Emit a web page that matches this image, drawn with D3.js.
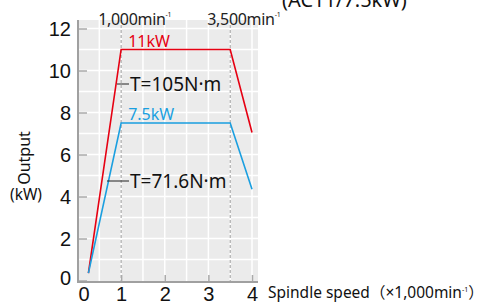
<!DOCTYPE html>
<html>
<head>
<meta charset="utf-8">
<script src="https://cdn.jsdelivr.net/npm/d3@7"></script>
<style>
  body { margin: 0; background: #fff; }
  svg { display: block; font-family: "Noto Sans", "Noto Sans CJK JP", sans-serif; }
</style>
</head>
<body>
<svg id="chart" width="485" height="304"></svg>
<script>
// spindle speed (x1,000 min^-1) and output (kW)
const speeds = [0.25, 1, 3.5, 4];
const output11 = [0.35, 11, 11, 7.05];
const output75 = [0.35, 7.5, 7.5, 4.35];
const xTicks = [0, 1, 2, 3, 4];
const yTicks = [0, 2, 4, 6, 8, 10, 12];
const markerSpeeds = [1, 3.5];
const markerLabels = ['1,000', '3,500'];

const svg = d3.select('#chart');

const x = d3.scaleLinear().domain([0, 4]).range([77.5, 252]);
const y = d3.scaleLinear().domain([0, 12]).range([280.5, 28.5]);

const plotLeft = 78, plotRight = 258, plotTop = 20, plotBottom = 282;

svg.append('rect')
  .attr('x', plotLeft).attr('y', plotTop)
  .attr('width', plotRight - plotLeft).attr('height', plotBottom - plotTop)
  .attr('fill', '#ebebeb');

// white grid
svg.append('g').selectAll('line')
  .data(d3.range(0.5, 4.01, 0.5))
  .join('line')
  .attr('x1', d => x(d)).attr('x2', d => x(d))
  .attr('y1', plotTop).attr('y2', plotBottom)
  .attr('stroke', '#fff').attr('stroke-width', 1.5);

svg.append('g').selectAll('line')
  .data(d3.range(1, 13))
  .join('line')
  .attr('x1', plotLeft).attr('x2', plotRight)
  .attr('y1', d => y(d)).attr('y2', d => y(d))
  .attr('stroke', '#fff').attr('stroke-width', 1.5);

// dashed markers
svg.append('g').selectAll('line')
  .data(markerSpeeds)
  .join('line')
  .attr('x1', d => x(d)).attr('x2', d => x(d))
  .attr('y1', plotTop).attr('y2', plotBottom)
  .attr('stroke', '#9a9a9a').attr('stroke-width', 1)
  .attr('stroke-dasharray', '3,2');

const markerText = svg.append('g').selectAll('text')
  .data(markerSpeeds)
  .join('text')
  .attr('x', d => x(d) - 23).attr('y', 25)
  .attr('font-size', 16).attr('letter-spacing', -0.3).attr('fill', '#222');
markerText.append('tspan').text((d, i) => markerLabels[i] + 'min');
markerText.append('tspan').attr('font-size', 7).attr('dy', -8).text('-1');

// axes
const xAxis = svg.append('g')
  .attr('transform', `translate(0,${plotBottom})`)
  .call(d3.axisBottom(x).tickValues(xTicks).tickFormat(d3.format('d'))
    .tickSize(-7).tickPadding(5));
xAxis.select('.domain').remove();
xAxis.selectAll('line').attr('stroke', '#aaa').attr('stroke-width', 1.5);
xAxis.selectAll('text')
  .attr('font-size', 20).attr('fill', '#111').attr('font-family', null)
  .attr('dx', d => d === 0 ? 6 : 0);

const yAxis = svg.append('g')
  .attr('transform', `translate(${plotLeft},0)`)
  .call(d3.axisLeft(y).tickValues(yTicks).tickSize(-9).tickPadding(7));
yAxis.select('.domain').remove();
yAxis.selectAll('line').attr('stroke', '#aaa').attr('stroke-width', 1.5);
yAxis.selectAll('text')
  .attr('font-size', 20).attr('fill', '#111').attr('font-family', null)
  .attr('dy', d => d === 0 ? '0.2em' : '0.35em');

svg.append('line')
  .attr('x1', plotLeft).attr('x2', plotLeft).attr('y1', plotTop).attr('y2', plotBottom + 1)
  .attr('stroke', '#a0a0a0').attr('stroke-width', 2);
svg.append('line')
  .attr('x1', plotLeft - 1).attr('x2', plotRight).attr('y1', plotBottom).attr('y2', plotBottom)
  .attr('stroke', '#a0a0a0').attr('stroke-width', 2);

// output curves
const line = d3.line().x(d => x(d[0])).y(d => y(d[1]));
const series = [
  { values: output11, color: '#e60012' },
  { values: output75, color: '#1a9fe0' }
];
svg.append('g').selectAll('path')
  .data(series)
  .join('path')
  .attr('d', s => line(speeds.map((v, i) => [v, s.values[i]])))
  .attr('fill', 'none')
  .attr('stroke', s => s.color)
  .attr('stroke-width', 1.6);

// labels in plot
svg.append('text').attr('x', x(1) + 7).attr('y', 47)
  .attr('font-size', 16).attr('fill', '#e60012').text('11kW');
svg.append('text').attr('x', x(1) + 7).attr('y', 120)
  .attr('font-size', 16).attr('fill', '#1a9fe0').text('7.5kW');

svg.append('line').attr('x1', 117).attr('x2', 129).attr('y1', 84).attr('y2', 84)
  .attr('stroke', '#222').attr('stroke-width', 1);
svg.append('text').attr('x', 130).attr('y', 90.5)
  .attr('font-size', 19).attr('fill', '#111').text('T=105N·m');

svg.append('line').attr('x1', 107).attr('x2', 129).attr('y1', 181).attr('y2', 181)
  .attr('stroke', '#222').attr('stroke-width', 1);
svg.append('text').attr('x', 130).attr('y', 188)
  .attr('font-size', 19).attr('fill', '#111').text('T=71.6N·m');

// axis titles
svg.append('text')
  .attr('transform', 'translate(30,158) rotate(-90)')
  .attr('text-anchor', 'middle')
  .attr('font-size', 16).attr('fill', '#111').text('Output');
svg.append('text').attr('x', 26).attr('y', 200)
  .attr('text-anchor', 'middle')
  .attr('font-size', 15.5).attr('fill', '#111').text('(kW)');

const xTitle = svg.append('text').attr('x', 268).attr('y', 298)
  .attr('font-size', 15.5).attr('fill', '#111');
xTitle.append('tspan').text('Spindle speed（×1,000min');
xTitle.append('tspan').attr('font-size', 7).attr('dy', -6).text('-1');
xTitle.append('tspan').attr('dy', 6).text('）');

// clipped heading at top
svg.append('text').attr('x', 282).attr('y', 7)
  .attr('font-size', 20).attr('fill', '#111').text('(AC11/7.5kW)');
</script>
</body>
</html>
